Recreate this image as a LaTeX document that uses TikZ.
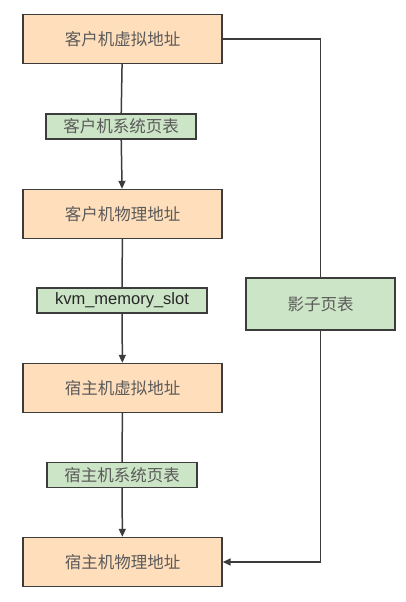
\documentclass[tikz,border=0pt]{standalone}
\usepackage{fontspec}
\newfontfamily\cjk{Noto Sans CJK SC}
\newfontfamily\arial{Liberation Sans}
\usetikzlibrary{arrows.meta}

\definecolor{addrfill}{HTML}{FFDEBB}
\definecolor{tablefill}{HTML}{CCE5C6}
\definecolor{edgegray}{HTML}{3C3C3C}
\definecolor{textgray}{HTML}{5A5A5A}

\begin{document}
\begin{tikzpicture}[x=1pt, y=-1pt, >={Triangle[length=8pt, width=7pt]},
    addr/.style={draw=edgegray, line width=1.4pt, fill=addrfill, minimum width=199pt,
        minimum height=49pt, inner sep=0pt, font=\cjk\fontsize{16.5}{18}\selectfont, text=textgray},
    table/.style={draw=edgegray, line width=1.4pt, fill=tablefill, minimum width=150pt,
        minimum height=25pt, inner sep=0pt, font=\cjk\fontsize{16.5}{18}\selectfont, text=textgray},
    link/.style={draw=edgegray, line width=1.5pt}]

    % ==========================================
    % 1. CANVAS
    % ==========================================
    \fill[white] (0, 0) rectangle (406, 602);
    \useasboundingbox (0, 0) rectangle (406, 602);

    % ==========================================
    % 2. ADDRESS BOXES (left column)
    % ==========================================
    \node[addr] (gva) at (122.5, 39)  {客户机虚拟地址};
    \node[addr] (gpa) at (122.5, 214) {客户机物理地址};
    \node[addr] (hva) at (122.5, 388) {宿主机虚拟地址};
    \node[addr] (hpa) at (122.5, 562) {宿主机物理地址};

    % ==========================================
    % 3. TRANSLATION TABLES
    % ==========================================
    \node[table] (gpt) at (121, 126.5) {客户机系统页表};
    \node[table, minimum width=170pt, font=\arial\fontsize{16.5}{18}\selectfont, text=black!85]
        (slot) at (122, 300.5) {kvm\_memory\_slot};
    \node[table] (hpt) at (122, 475) {宿主机系统页表};
    \node[table, minimum width=149pt, minimum height=52pt] (spt) at (320.5, 304) {影子页表};

    % ==========================================
    % 4. CONNECTORS
    % ==========================================
    \draw[link] (gva) -- (gpt);
    \draw[link, ->] (gpt) -- (gpa);
    \draw[link] (gpa) -- (slot);
    \draw[link, ->] (slot) -- (hva);
    \draw[link] (hva) -- (hpt);
    \draw[link, ->] (hpt) -- (hpa);

    % Shadow page table path (right side)
    \draw[link] (gva.east) -| (spt.north);
    \draw[link, ->] (spt.south) |- (hpa.east);

\end{tikzpicture}
\end{document}
